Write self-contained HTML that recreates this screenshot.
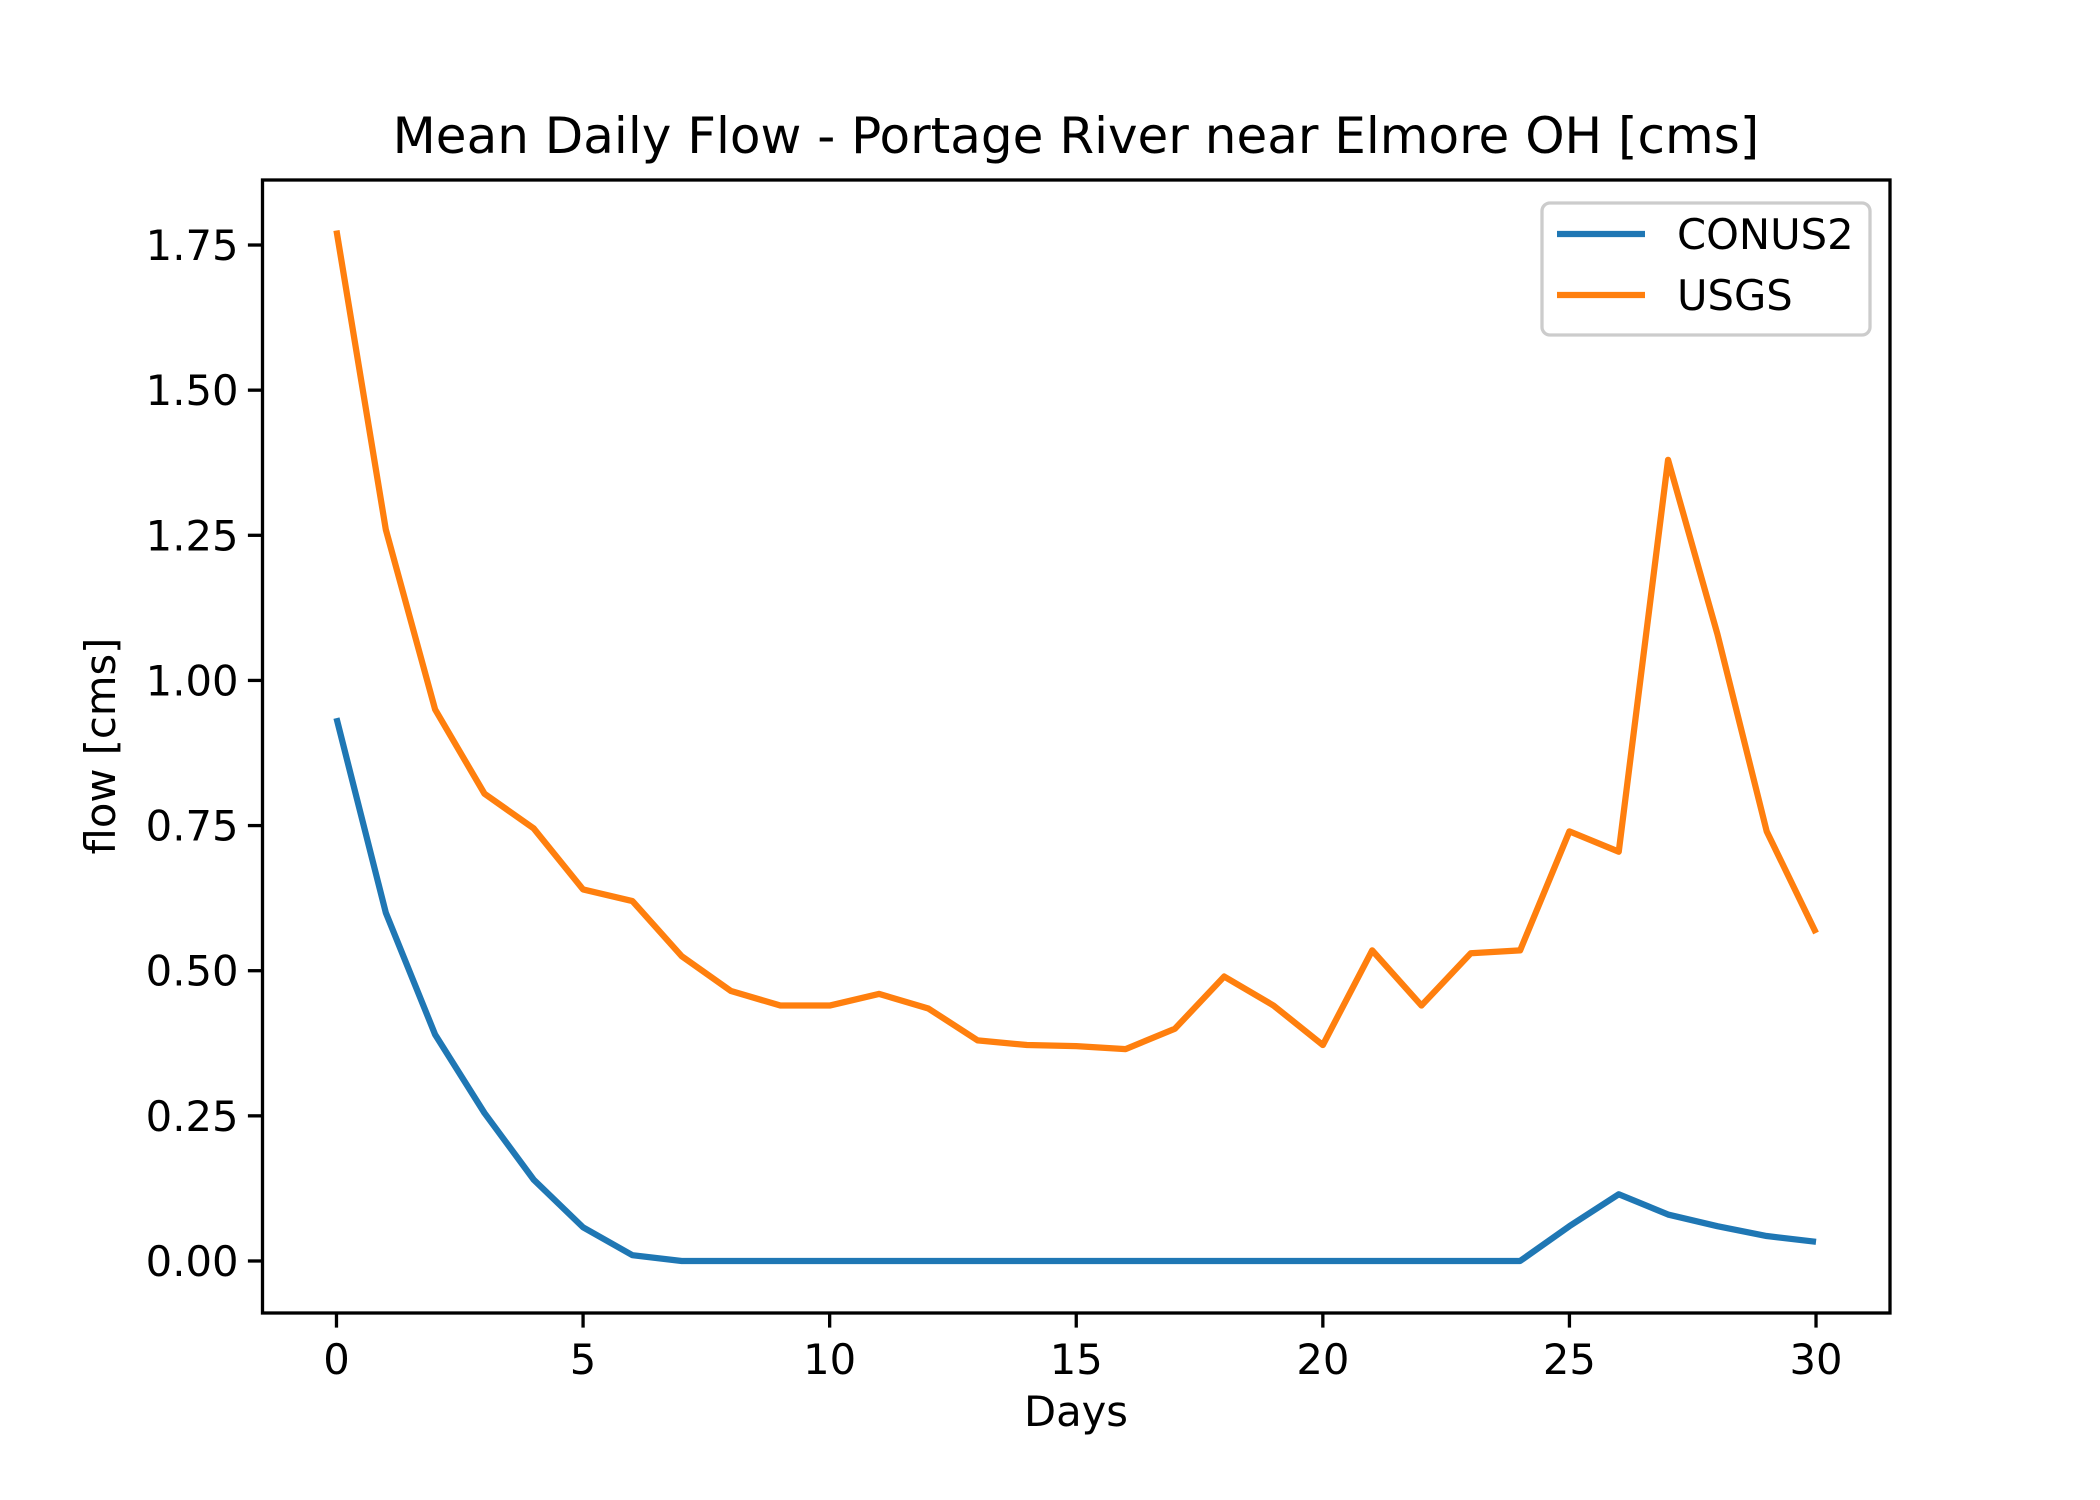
<!DOCTYPE html>
<html><head><meta charset="utf-8"><style>html,body{margin:0;padding:0;background:#fff}svg{display:block}text{font-family:"DejaVu Sans","Liberation Sans",sans-serif;fill:#000}</style></head>
<body>
<svg id="chart" width="2100" height="1500" viewBox="0 0 2100 1500" xmlns="http://www.w3.org/2000/svg">
<rect width="2100" height="1500" fill="#fff"/>
<text x="1076" y="153" font-size="50" text-anchor="middle">Mean Daily Flow - Portage River near Elmore OH [cms]</text>
<g id="marks"></g>
<rect x="262.5" y="180" width="1627.5" height="1133" fill="none" stroke="#000" stroke-width="3.3"/>
<g id="ticks"></g>
<text x="1076" y="1426" font-size="41.7" text-anchor="middle">Days</text>
<text transform="translate(115,746) rotate(-90)" font-size="41.7" text-anchor="middle">flow [cms]</text>
<g>
<rect x="1542" y="203" width="328" height="132" rx="8" fill="#fff" fill-opacity="0.8" stroke="#ccc" stroke-width="3.3"/>
<line x1="1557" y1="234" x2="1645" y2="234" stroke="#1f77b4" stroke-width="6.25"/>
<text x="1677" y="249" font-size="41.7">CONUS2</text>
<line x1="1557" y1="295" x2="1645" y2="295" stroke="#ff7f0e" stroke-width="6.25"/>
<text x="1677" y="310" font-size="41.7">USGS</text>
</g>
</svg>
<script>
const days = Array.from({length:31},(_,i)=>i);
const usgs = [1.775,1.26,0.95,0.805,0.745,0.64,0.62,0.525,0.465,0.44,0.44,0.46,0.435,0.38,0.372,0.37,0.365,0.4,0.49,0.44,0.372,0.535,0.44,0.53,0.535,0.74,0.705,1.38,1.08,0.74,0.565];
const conus2 = [0.935,0.6,0.39,0.255,0.14,0.058,0.01,0,0,0,0,0,0,0,0,0,0,0,0,0,0,0,0,0,0,0.06,0.115,0.08,0.06,0.043,0.033];
const xTicks = [0,5,10,15,20,25,30];
const yTicks = [0,0.25,0.5,0.75,1.0,1.25,1.5,1.75];
const L=262.5,R=1890,T=180,B=1313,xmin=-1.5,xmax=31.5,ymin=-0.0896,ymax=1.862;
const sx=v=>L+(v-xmin)/(xmax-xmin)*(R-L);
const sy=v=>B-(v-ymin)/(ymax-ymin)*(B-T);
const NS="http://www.w3.org/2000/svg";
const marks=document.getElementById('marks'), ticks=document.getElementById('ticks');
function line(vals,color,name){
  const p=document.createElementNS(NS,'polyline');
  p.setAttribute('points',vals.map((v,i)=>sx(days[i])+','+sy(v)).join(' '));
  p.setAttribute('fill','none');p.setAttribute('stroke',color);p.setAttribute('stroke-width','6.25');
  p.setAttribute('stroke-linejoin','round');
  
  
  marks.appendChild(p);
}
line(conus2,'#1f77b4','conus2-line');
line(usgs,'#ff7f0e','usgs-line');
xTicks.forEach(t=>{
  const l=document.createElementNS(NS,'line');
  l.setAttribute('x1',sx(t));l.setAttribute('x2',sx(t));l.setAttribute('y1',B);l.setAttribute('y2',B+14.6);
  l.setAttribute('stroke','#000');l.setAttribute('stroke-width','3.3');
  
  
  ticks.appendChild(l);
  const tx=document.createElementNS(NS,'text');
  tx.setAttribute('x',sx(t));tx.setAttribute('y',B+61);tx.setAttribute('font-size','41.7');tx.setAttribute('text-anchor','middle');
  tx.textContent=t;
  
  
  ticks.appendChild(tx);
});
yTicks.forEach(t=>{
  const l=document.createElementNS(NS,'line');
  l.setAttribute('x1',L-14.6);l.setAttribute('x2',L);l.setAttribute('y1',sy(t));l.setAttribute('y2',sy(t));
  l.setAttribute('stroke','#000');l.setAttribute('stroke-width','3.3');
  
  
  ticks.appendChild(l);
  const tx=document.createElementNS(NS,'text');
  tx.setAttribute('x',L-24);tx.setAttribute('y',sy(t)+15);tx.setAttribute('font-size','41.7');tx.setAttribute('text-anchor','end');
  tx.textContent=t.toFixed(2);
  
  
  ticks.appendChild(tx);
});
</script>
</body></html>
